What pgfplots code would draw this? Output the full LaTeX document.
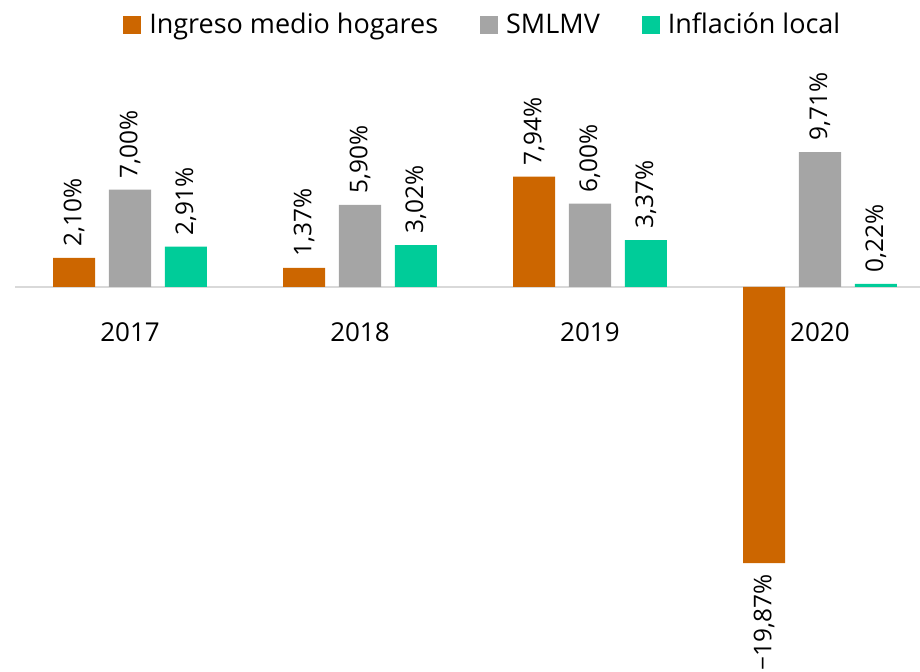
\documentclass[border=0pt]{standalone}
\usepackage{pgfplots}
\pgfplotsset{compat=1.18}
\usepackage{fontspec}
\setmainfont{Open Sans}

\definecolor{ingreso}{RGB}{204,102,0}
\definecolor{smlmv}{RGB}{165,165,165}
\definecolor{inflacion}{RGB}{0,204,153}
\definecolor{zeroline}{RGB}{217,217,217}

% x: 0=2017 1=2018 2=2019 3=2020
\pgfplotstableread{
x y
0 2.10
1 1.37
2 7.94
3 -19.87
}\ingresotab
\pgfplotstableread{
x y
0 7.00
1 5.90
2 6.00
3 9.71
}\smlmvtab
\pgfplotstableread{
x y
0 2.91
1 3.02
2 3.37
3 0.22
}\inflaciontab

% swap a leading hyphen for a real minus sign
\def\fixminus#1#2\relax{\ifx-#1\char"2212 #2\else#1#2\fi}
\newcommand\barlabel{%
  \pgfmathprintnumberto[fixed,zerofill,precision=2,use comma,assume math mode=true]{\pgfplotspointmeta}{\lbl}%
  \rotatebox{90}{\expandafter\fixminus\lbl\relax\%}}

\begin{document}
\begin{tikzpicture}
\path[use as bounding box] (-7.5pt,-53.5pt) rectangle (452.5pt,282.5pt);
\begin{axis}[
  width=452.5pt, height=208.5pt, scale only axis,
  font=\fontsize{13}{15}\selectfont,
  /pgf/number format/assume math mode=true,
  ybar, bar width=0.183,
  xmin=-0.5, xmax=3.435,
  ymin=-20, ymax=10,
  axis x line=middle, axis y line=none,
  axis line style={draw=zeroline, line width=1pt, -},
  xtick={0,1,2,3},
  xticklabels={2017,2018,2019,2020},
  xtick style={draw=none},
  xticklabel style={anchor=north, yshift=-12pt},
  ytick=\empty,
  clip=false,
  nodes near coords={\barlabel},
  every node near coord/.append style={inner sep=5.5pt, font=\fontsize{12.2}{14}\selectfont},
  legend style={at={(0.518,1.295)}, anchor=center, draw=none, fill=none,
    font=\fontsize{13.5}{15}\selectfont,
    legend columns=-1,
    /tikz/every even column/.append style={column sep=19pt}},
  legend image code/.code={\fill[#1] (0pt,-4.5pt) rectangle (9pt,4.5pt); \path (11pt,0pt);},
]
\addplot[fill=ingreso, draw=none, bar shift=-0.243] table[x=x,y=y] {\ingresotab};
\addlegendentry{Ingreso medio hogares}
\addplot[fill=smlmv, draw=none, bar shift=0] table[x=x,y=y] {\smlmvtab};
\addlegendentry{SMLMV}
\addplot[fill=inflacion, draw=none, bar shift=0.243] table[x=x,y=y] {\inflaciontab};
\addlegendentry{Inflación local}
\end{axis}
\end{tikzpicture}
\end{document}
